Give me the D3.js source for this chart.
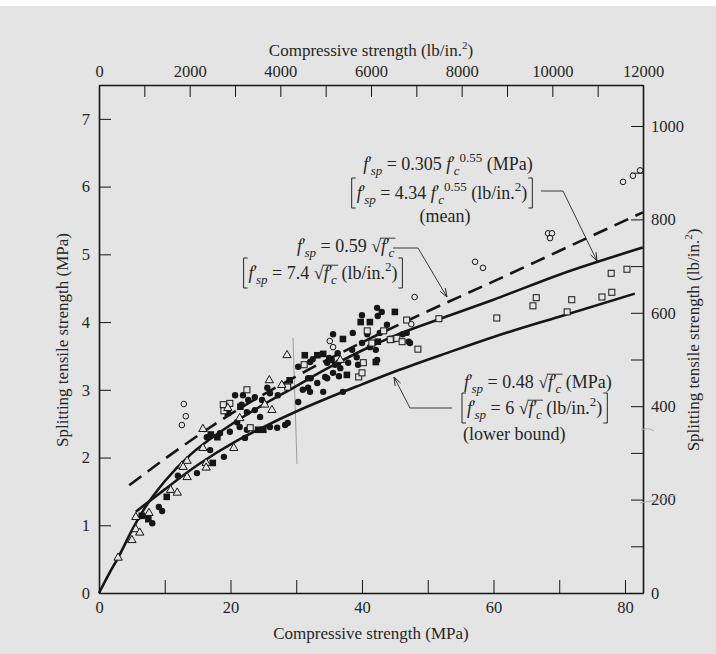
<!DOCTYPE html>
<html>
<head>
<meta charset="utf-8">
<script src="https://cdn.jsdelivr.net/npm/d3@7"></script>
<style>
  html, body { margin: 0; padding: 0; background: #ffffff; }
  svg { display: block; }
  text { font-family: "Liberation Serif", "DejaVu Serif", serif; fill: #262626; }
</style>
</head>
<body>
<div id="chart"></div>
<script>
// data: [compressive strength MPa, splitting tensile MPa]
const filledCircles = [
  [8.1,1.03],[9.6,1.21],[9.1,1.27],[12.0,1.73],[14.9,1.77],[19.0,2.01],[16.9,2.11],
  [20.7,2.92],[21.9,2.92],[22.7,2.85],[23.7,2.89],[24.8,2.85],[26.0,2.95],[27.2,2.92],[25.6,3.03],
  [21.7,2.78],[22.5,2.67],[23.7,2.70],[24.5,2.60],[21.4,2.45],[22.5,2.41],[21.0,2.52],[26.0,2.45],
  [27.1,2.44],[28.3,2.48],[16.4,2.30],[18.4,2.36],[19.9,2.38],[22.2,2.29],[28.7,2.51],
  [31.8,3.17],[30.3,2.82],[31.0,3.00],[32.1,2.97],[33.2,3.10],[34.4,3.19],[35.6,3.25],
  [32.5,3.45],[34.7,3.40],[36.4,3.40],[30.3,3.34],[35.6,3.82],
  [42.3,4.21],[40.0,4.10],[43.0,4.15],[42.4,4.09],[38.6,3.84],[40.8,3.82],[42.7,3.84],[43.8,3.96],
  [40.0,3.69],[41.2,3.63],[38.5,3.59],[39.2,3.48],[36.3,3.54],[35.4,3.44],[42.3,3.44],[37.9,3.40],
  [35.9,3.37],[36.7,3.32],[39.4,3.37],[35.0,3.47],[32.1,3.41],[46.8,3.84],[47.1,3.71],[42.1,3.59],
  [32.2,3.17],[34.7,3.17],[36.5,3.20],[31.8,3.03],[34.1,2.97],[37.1,2.97],[46.2,3.82],[47.3,3.69]
];
const filledSquares = [
  [10.3,1.42],[7.5,1.09],[6.5,1.14],[17.3,1.92],[19.6,2.66],[21.5,2.75],[24.2,2.41],[25.0,2.41],
  [17.0,2.34],[18.0,2.30],[31.3,3.51],[33.2,3.51],[29.0,3.14],[39.8,4.00],[41.2,4.00],[45.0,4.15],
  [37.1,3.75],[34.1,3.53],[42.1,3.41],[42.4,3.71],[37.7,3.22]
];
const openSquares = [
  [18.9,2.78],[19.0,2.69],[19.9,2.80],[22.5,3.00],[28.7,3.04],[31.2,3.37],[23.0,2.44],
  [40.8,3.87],[43.3,3.87],[41.5,3.69],[44.6,3.75],[45.3,3.76],[40.2,3.40],[39.5,3.19],[40.0,3.25],
  [46.8,4.03],[48.5,3.60],[51.7,4.05],[44.3,3.74],[46.1,3.71],
  [60.5,4.06],[66.0,4.24],[66.5,4.36],[71.2,4.15],[71.9,4.33],[76.5,4.37],[78.0,4.44],[77.9,4.72],[80.3,4.78]
];
const openCircles = [
  [12.9,2.79],[13.2,2.61],[12.6,2.48],[35.1,3.72],[35.6,3.63],[47.5,3.97],[48.0,4.37],
  [57.2,4.89],[58.4,4.80],[68.3,5.31],[68.9,5.31],[68.6,5.24],[79.7,6.07],[81.2,6.16],[82.3,6.24]
];
const openTriangles = [
  [2.9,0.52],[5.0,0.78],[5.6,0.94],[6.2,0.89],[5.6,1.12],[7.6,1.18],[11.9,1.48],[10.9,1.52],
  [12.6,1.88],[13.4,1.95],[13.4,1.71],[16.3,1.92],[16.3,1.85],[15.8,2.14],[15.8,2.42],[20.5,2.14],
  [12.8,1.86],[28.6,3.51],[25.9,3.14],[27.8,3.07],[25.2,2.78],[21.4,2.58],[19.6,2.73],[26.3,2.70],[36.7,3.44]
];

// curves
const meanDashed = [[4.6,1.59],[10,1.98],[20,2.64],[30,3.2],[40,3.7],[50,4.16],[60,4.6],[70,5.05],[82.7,5.62]];
const upperSolid = [[0,0],[1.5,0.28],[2.9,0.52],[5.2,0.96],[7,1.26],[10,1.65],[14,2.05],[17.3,2.3],[20,2.48],
  [25,2.78],[29,3.0],[35,3.33],[40,3.58],[45,3.8],[53.4,4.1],[60,4.33],[70,4.7],[82.7,5.1]];
const lowerSolid = [[5.6,1.2],[8,1.38],[10,1.53],[15,1.89],[21,2.25],[25,2.45],[30,2.68],[34.1,2.85],[40,3.08],
  [45,3.27],[53.4,3.56],[60,3.78],[70,4.08],[81.5,4.42]];

// axis ticks
const mpaXTicks = [0,10,20,30,40,50,60,70,80];
const mpaYTicks = [0,1,2,3,4,5,6,7];
const psiXTicks = d3.range(0, 12001, 1000);
const psiYTicks = d3.range(0, 1001, 100);

const W = 716, H = 654;
const ink = "#161616";

const svg = d3.select("#chart").append("svg")
  .attr("width", W).attr("height", H)
  .attr("xmlns", "http://www.w3.org/2000/svg");

// page background (white strip on top like the scan)
svg.append("rect").attr("x", 0).attr("y", 6).attr("width", W).attr("height", H - 6).attr("fill", "#e4e4e4");

const x = d3.scaleLinear().domain([0, 82.74]).range([99, 643]);
const y = d3.scaleLinear().domain([0, 7.5]).range([593, 85]);
const xPsi = d3.scaleLinear().domain([0, 12000]).range([99, 643]);
const yPsi = d3.scaleLinear().domain([0, 7.5 * 145.04]).range([593, 85]);

const tickFont = 16.5;

function styleAxis(g) {
  g.selectAll("path.domain").attr("stroke", ink).attr("stroke-width", 1.6);
  g.selectAll(".tick line").attr("stroke", ink).attr("stroke-width", 1);
  g.selectAll(".tick text").attr("font-family", "Liberation Serif").attr("font-size", tickFont).attr("fill", "#262626");
}

// bottom MPa axis
svg.append("g").attr("transform", "translate(0,593)")
  .call(d3.axisBottom(x).tickValues(mpaXTicks).tickSizeInner(-13).tickSizeOuter(0).tickPadding(8)
    .tickFormat(d => d % 20 === 0 ? d : ""))
  .call(styleAxis);

// top psi axis
svg.append("g").attr("transform", "translate(0,85)")
  .call(d3.axisTop(xPsi).tickValues(psiXTicks).tickSizeInner(-12).tickSizeOuter(0).tickPadding(8)
    .tickFormat(d => d % 2000 === 0 ? d : ""))
  .call(styleAxis);

// left MPa axis
svg.append("g").attr("transform", "translate(99,0)")
  .call(d3.axisLeft(y).tickValues(mpaYTicks).tickSizeInner(-12).tickSizeOuter(0).tickPadding(9))
  .call(styleAxis);

// right psi axis
svg.append("g").attr("transform", "translate(643,0)")
  .call(d3.axisRight(yPsi).tickValues(psiYTicks).tickSizeInner(-12).tickSizeOuter(0).tickPadding(8)
    .tickFormat(d => d % 200 === 0 ? d : ""))
  .call(styleAxis);

// axis titles
const titleFont = 17;
svg.append("text").attr("x", 371).attr("y", 639).attr("text-anchor", "middle").attr("font-size", titleFont)
  .text("Compressive strength (MPa)");
const topTitle = svg.append("text").attr("x", 371).attr("y", 56).attr("text-anchor", "middle").attr("font-size", titleFont);
topTitle.append("tspan").text("Compressive strength (lb/in.");
topTitle.append("tspan").attr("font-size", 11).attr("dy", -7).text("2");
topTitle.append("tspan").attr("dy", 7).text(")");

svg.append("text").attr("transform", "translate(68,340) rotate(-90)").attr("text-anchor", "middle")
  .attr("font-size", titleFont).text("Splitting tensile strength (MPa)");
const rTitle = svg.append("text").attr("transform", "translate(699,340) rotate(-90)").attr("text-anchor", "middle")
  .attr("font-size", titleFont);
rTitle.append("tspan").text("Splitting tensile strength (lb/in.");
rTitle.append("tspan").attr("font-size", 11).attr("dy", -7).text("2");
rTitle.append("tspan").attr("dy", 7).text(")");

// scan marks: pencil line and squiggles
svg.append("path").attr("d", "M293,338 L297,464").attr("stroke", "#9c9c9c").attr("stroke-width", 1).attr("fill", "none");
svg.append("path").attr("d", "M640,503 Q656,501 676,495").attr("stroke", "#a8a8a8").attr("stroke-width", 1).attr("fill", "none");
svg.append("path").attr("d", "M641,430 Q649,427 654,431").attr("stroke", "#b0b0b0").attr("stroke-width", 1).attr("fill", "none");

// curves
const line = d3.line().x(d => x(d[0])).y(d => y(d[1])).curve(d3.curveMonotoneX);
svg.append("path").datum(meanDashed).attr("d", line).attr("fill", "none").attr("stroke", ink)
  .attr("stroke-width", 2.6).attr("stroke-dasharray", "15,8");
svg.append("path").datum(upperSolid).attr("d", line).attr("fill", "none").attr("stroke", ink).attr("stroke-width", 2.6);
svg.append("path").datum(lowerSolid).attr("d", line).attr("fill", "none").attr("stroke", ink).attr("stroke-width", 2.6);

// markers
const bg = "#e4e4e4";
const pts = svg.append("g");
pts.selectAll("circle.fc").data(filledCircles).join("circle")
  .attr("cx", d => x(d[0])).attr("cy", d => y(d[1])).attr("r", 3.2).attr("fill", ink);
pts.selectAll("rect.fs").data(filledSquares).join("rect")
  .attr("x", d => x(d[0]) - 3.3).attr("y", d => y(d[1]) - 3.3).attr("width", 6.6).attr("height", 6.6).attr("fill", ink);
pts.selectAll("rect.os").data(openSquares).join("rect")
  .attr("x", d => x(d[0]) - 3).attr("y", d => y(d[1]) - 3).attr("width", 6).attr("height", 6)
  .attr("fill", bg).attr("stroke", ink).attr("stroke-width", 1);
pts.selectAll("circle.oc").data(openCircles).join("circle")
  .attr("cx", d => x(d[0])).attr("cy", d => y(d[1])).attr("r", 2.8)
  .attr("fill", bg).attr("stroke", ink).attr("stroke-width", 1);
const tri = d3.symbol().type(d3.symbolTriangle).size(30);
pts.selectAll("path.ot").data(openTriangles).join("path")
  .attr("d", tri).attr("transform", d => `translate(${x(d[0])},${y(d[1])})`)
  .attr("fill", bg).attr("stroke", ink).attr("stroke-width", 1);

// annotations
const annFont = 18;
const ann = svg.append("g").attr("font-size", annFont);

// segments: {t, it, sub, sup, dx, rad (radicand)}
function richText(px, py, segs, anchor) {
  const t = ann.append("text").attr("x", px).attr("y", py).attr("text-anchor", anchor || "start");
  let cur = 0;
  const nodes = [];
  segs.forEach(s => {
    const off = s.sub ? 5 : s.sup ? -8 : 0;
    const sp = t.append("tspan").text(s.t).attr("dy", off - cur);
    cur = off;
    if (s.it) sp.attr("font-style", "italic");
    if (s.sub || s.sup) sp.attr("font-size", 13);
    if (s.dx) sp.attr("dx", s.dx);
    nodes.push({ s, node: sp.node() });
  });
  // overline for square roots
  let root = null, rad = [];
  nodes.forEach(n => {
    if (n.s.t === "√") { root = n.node; rad = []; }
    else if (n.s.rad) rad.push(n.node);
    else if (root && rad.length) {
      drawBar(root, rad); root = null; rad = [];
    }
  });
  if (root && rad.length) drawBar(root, rad);
  return t;
}
function drawBar(root, rad) {
  const rb = root.getBBox();
  const right = d3.max(rad, n => { const b = n.getBBox(); return b.x + b.width; });
  const yTop = rb.y + 2.2;
  ann.append("line").attr("x1", rb.x + rb.width - 1).attr("x2", right + 1)
    .attr("y1", yTop).attr("y2", yTop).attr("stroke", "#262626").attr("stroke-width", 0.9);
}
function brackets(textSel) {
  const b = textSel.node().getBBox();
  const top = b.y - 1, bot = b.y + b.height + 1, l = b.x - 5, r = b.x + b.width + 5;
  ann.append("path").attr("d", `M${l + 4},${top} H${l} V${bot} H${l + 4}`)
    .attr("fill", "none").attr("stroke", "#262626").attr("stroke-width", 1);
  ann.append("path").attr("d", `M${r - 4},${top} H${r} V${bot} H${r - 4}`)
    .attr("fill", "none").attr("stroke", "#262626").attr("stroke-width", 1);
}
const fsp = [{ t: "f", it: true }, { t: "′" }, { t: "sp", it: true, sub: true, dx: -1.5 }];
const fcRad = [{ t: "√" }, { t: "f", it: true, rad: true }, { t: "′", rad: true }, { t: "c", it: true, sub: true, dx: -1.5, rad: true }];

// mean label
richText(448, 170, [...fsp, { t: " = 0.305 " }, { t: "f", it: true }, { t: "′" },
  { t: "c", it: true, sub: true, dx: -1.5 }, { t: "0.55", sup: true }, { t: " (MPa)" }], "middle");
const m2 = richText(442, 199, [...fsp, { t: " = 4.34 " }, { t: "f", it: true }, { t: "′" },
  { t: "c", it: true, sub: true, dx: -1.5 }, { t: "0.55", sup: true }, { t: " (lb/in." },
  { t: "2", sup: true }, { t: ")" }], "middle");
brackets(m2);
richText(445, 222, [{ t: "(mean)" }], "middle");

// 0.59 label
richText(297, 252, [...fsp, { t: " = 0.59 " }, ...fcRad]);
const s2 = richText(323, 279, [...fsp, { t: " = 7.4 " }, ...fcRad, { t: " (lb/in." }, { t: "2", sup: true }, { t: ")" }], "middle");
brackets(s2);

// lower bound label
richText(464, 388, [...fsp, { t: " = 0.48 " }, ...fcRad, { t: " (MPa)" }]);
const l2 = richText(467, 414, [...fsp, { t: " = 6 " }, ...fcRad, { t: " (lb/in." }, { t: "2", sup: true }, { t: ")" }]);
brackets(l2);
richText(463, 440, [{ t: "(lower bound)" }]);

// leader lines with open arrowheads
function leader(pointsArr) {
  ann.append("path").attr("d", d3.line()(pointsArr)).attr("fill", "none")
    .attr("stroke", "#262626").attr("stroke-width", 0.9);
  const [p0, p1] = pointsArr.slice(-2);
  const a = Math.atan2(p1[1] - p0[1], p1[0] - p0[0]);
  const L = 9, sp = 0.35;
  const h1 = [p1[0] - L * Math.cos(a - sp), p1[1] - L * Math.sin(a - sp)];
  const h2 = [p1[0] - L * Math.cos(a + sp), p1[1] - L * Math.sin(a + sp)];
  ann.append("path").attr("d", `M${h1[0]},${h1[1]} L${p1[0]},${p1[1]} L${h2[0]},${h2[1]}`)
    .attr("fill", "none").attr("stroke", "#262626").attr("stroke-width", 1);
}
leader([[541, 191], [563, 191], [597, 261]]);
leader([[393, 248], [418, 248], [447, 297]]);
leader([[452, 408], [410, 408], [394, 377]]);
</script>
</body>
</html>
